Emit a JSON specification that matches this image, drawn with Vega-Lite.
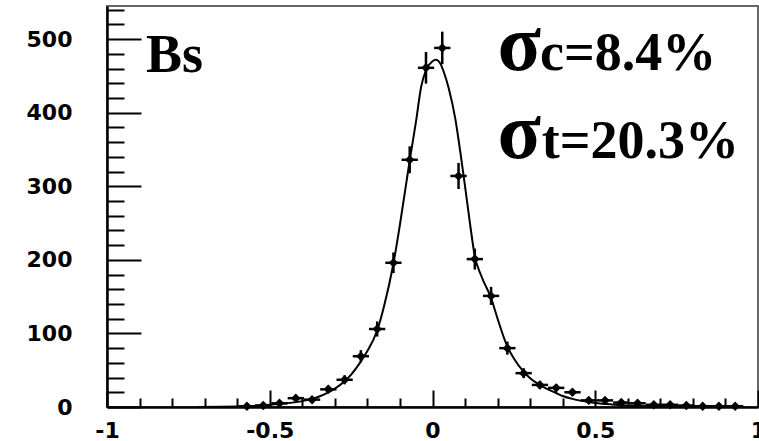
{
  "$schema": "https://vega.github.io/schema/vega-lite/v6.json",
  "width": 651,
  "height": 401,
  "autosize": {"type": "none"},
  "padding": {"left": 107, "top": 6, "right": 1, "bottom": 34},
  "background": "white",
  "config": {
    "view": {"stroke": "#666666", "strokeWidth": 2},
    "axis": {
      "grid": false,
      "title": null,
      "tickColor": "black",
      "tickWidth": 2,
      "domainColor": "black",
      "domainWidth": 2.5,
      "labelFont": "DejaVu Sans",
      "labelFontWeight": "bold",
      "labelFontSize": 22,
      "labelColor": "black",
      "labelOverlap": false,
      "labelBound": false,
      "labelFlush": false
    }
  },
  "datasets": {
    "pts": [
      {"x": -0.57, "n": 1, "lo": 0, "hi": 2, "xl": -0.595, "xh": -0.545},
      {"x": -0.52, "n": 2, "lo": 0.6, "hi": 3.4, "xl": -0.545, "xh": -0.495},
      {"x": -0.47, "n": 5, "lo": 2.8, "hi": 7.2, "xl": -0.495, "xh": -0.445},
      {"x": -0.42, "n": 12, "lo": 8.5, "hi": 15.5, "xl": -0.445, "xh": -0.395},
      {"x": -0.37, "n": 10, "lo": 6.8, "hi": 13.2, "xl": -0.395, "xh": -0.345},
      {"x": -0.32, "n": 24, "lo": 19.1, "hi": 28.9, "xl": -0.345, "xh": -0.295},
      {"x": -0.27, "n": 37, "lo": 30.9, "hi": 43.1, "xl": -0.295, "xh": -0.245},
      {"x": -0.22, "n": 69, "lo": 60.7, "hi": 77.3, "xl": -0.245, "xh": -0.195},
      {"x": -0.17, "n": 106, "lo": 95.7, "hi": 116.3, "xl": -0.195, "xh": -0.145},
      {"x": -0.12, "n": 196, "lo": 182, "hi": 210, "xl": -0.145, "xh": -0.095},
      {"x": -0.07, "n": 336, "lo": 317.7, "hi": 354.3, "xl": -0.095, "xh": -0.045},
      {"x": -0.02, "n": 461, "lo": 439.5, "hi": 482.5, "xl": -0.045, "xh": 0.005},
      {"x": 0.03, "n": 488, "lo": 465.9, "hi": 510.1, "xl": 0.005, "xh": 0.055},
      {"x": 0.08, "n": 314, "lo": 296.3, "hi": 331.7, "xl": 0.055, "xh": 0.105},
      {"x": 0.13, "n": 201, "lo": 186.8, "hi": 215.2, "xl": 0.105, "xh": 0.155},
      {"x": 0.18, "n": 151, "lo": 138.7, "hi": 163.3, "xl": 0.155, "xh": 0.205},
      {"x": 0.23, "n": 80, "lo": 71.1, "hi": 88.9, "xl": 0.205, "xh": 0.255},
      {"x": 0.28, "n": 46, "lo": 39.2, "hi": 52.8, "xl": 0.255, "xh": 0.305},
      {"x": 0.33, "n": 30, "lo": 24.5, "hi": 35.5, "xl": 0.305, "xh": 0.355},
      {"x": 0.38, "n": 26, "lo": 20.9, "hi": 31.1, "xl": 0.355, "xh": 0.405},
      {"x": 0.43, "n": 20, "lo": 15.5, "hi": 24.5, "xl": 0.405, "xh": 0.455},
      {"x": 0.48, "n": 9, "lo": 6, "hi": 12, "xl": 0.455, "xh": 0.505},
      {"x": 0.53, "n": 9, "lo": 6, "hi": 12, "xl": 0.505, "xh": 0.555},
      {"x": 0.58, "n": 6, "lo": 3.6, "hi": 8.4, "xl": 0.555, "xh": 0.605},
      {"x": 0.63, "n": 5, "lo": 2.8, "hi": 7.2, "xl": 0.605, "xh": 0.655},
      {"x": 0.68, "n": 3, "lo": 1.3, "hi": 4.7, "xl": 0.655, "xh": 0.705},
      {"x": 0.73, "n": 3, "lo": 1.3, "hi": 4.7, "xl": 0.705, "xh": 0.755},
      {"x": 0.78, "n": 2, "lo": 0.6, "hi": 3.4, "xl": 0.755, "xh": 0.805},
      {"x": 0.83, "n": 1, "lo": 0, "hi": 2, "xl": 0.805, "xh": 0.855},
      {"x": 0.88, "n": 1, "lo": 0, "hi": 2, "xl": 0.855, "xh": 0.905},
      {"x": 0.93, "n": 1, "lo": 0, "hi": 2, "xl": 0.905, "xh": 0.955}
    ],
    "fit": [
      {"x": -0.72, "y": 0},
      {"x": -0.65, "y": 0.3},
      {"x": -0.6, "y": 0.8},
      {"x": -0.55, "y": 1.5},
      {"x": -0.5, "y": 3},
      {"x": -0.45, "y": 5},
      {"x": -0.4, "y": 8},
      {"x": -0.37, "y": 11},
      {"x": -0.35, "y": 14},
      {"x": -0.32, "y": 20},
      {"x": -0.3, "y": 25},
      {"x": -0.27, "y": 35},
      {"x": -0.25, "y": 44},
      {"x": -0.22, "y": 62},
      {"x": -0.2, "y": 76},
      {"x": -0.17, "y": 104},
      {"x": -0.15, "y": 135},
      {"x": -0.12, "y": 195},
      {"x": -0.1, "y": 248},
      {"x": -0.07, "y": 335},
      {"x": -0.05, "y": 390},
      {"x": -0.035, "y": 435},
      {"x": -0.02, "y": 458},
      {"x": 0, "y": 470},
      {"x": 0.01, "y": 472},
      {"x": 0.025, "y": 466},
      {"x": 0.035, "y": 455},
      {"x": 0.05, "y": 433},
      {"x": 0.07, "y": 392},
      {"x": 0.085, "y": 348},
      {"x": 0.1, "y": 300},
      {"x": 0.115, "y": 250},
      {"x": 0.13, "y": 205},
      {"x": 0.15, "y": 178},
      {"x": 0.18, "y": 148},
      {"x": 0.2, "y": 120},
      {"x": 0.23, "y": 82},
      {"x": 0.25, "y": 66},
      {"x": 0.28, "y": 48},
      {"x": 0.3, "y": 39},
      {"x": 0.33, "y": 30},
      {"x": 0.35, "y": 25},
      {"x": 0.38, "y": 19},
      {"x": 0.4, "y": 15},
      {"x": 0.43, "y": 11},
      {"x": 0.45, "y": 9},
      {"x": 0.5, "y": 5.5},
      {"x": 0.55, "y": 3.5},
      {"x": 0.6, "y": 2.2},
      {"x": 0.7, "y": 1},
      {"x": 0.8, "y": 0.5},
      {"x": 0.95, "y": 0.2}
    ],
    "labels": [
      {"t": "Bs", "x": -0.88, "y": 455, "big": 0},
      {"t": "σ", "x": 0.2, "y": 458, "big": 1},
      {"t": "c=8.4%", "x": 0.33, "y": 458, "big": 0},
      {"t": "σ", "x": 0.2, "y": 338, "big": 1},
      {"t": "t=20.3%", "x": 0.336, "y": 338, "big": 0}
    ]
  },
  "layer": [
    {
      "data": {"name": "fit"},
      "mark": {"type": "line", "color": "black", "strokeWidth": 2, "interpolate": "monotone"},
      "encoding": {
        "x": {"field": "x", "type": "quantitative", "scale": {"domain": [-1, 1], "nice": false, "zero": false},
          "axis": {"orient": "bottom", "values": [-1, -0.5, 0, 0.5, 1], "tickSize": -17, "labelPadding": 30, "labelExpr": "'' + datum.value"}},
        "y": {"field": "y", "type": "quantitative", "scale": {"domain": [0, 545], "nice": false, "zero": false},
          "axis": {"orient": "left", "values": [0, 100, 200, 300, 400, 500], "tickSize": -34, "labelPadding": 69, "labelBaseline": "middle", "labelExpr": "'' + datum.value"}}
      }
    },
    {
      "data": {"name": "pts"},
      "mark": {"type": "rule", "color": "black", "strokeWidth": 2.5},
      "encoding": {
        "x": {"field": "x", "type": "quantitative", "scale": {"domain": [-1, 1], "nice": false, "zero": false},
          "axis": {"orient": "bottom", "values": [-0.9, -0.8, -0.7, -0.6, -0.4, -0.3, -0.2, -0.1, 0.1, 0.2, 0.3, 0.4, 0.6, 0.7, 0.8, 0.9], "tickSize": -9, "labels": false, "domain": false}},
        "y": {"field": "lo", "type": "quantitative", "scale": {"domain": [0, 545], "nice": false, "zero": false},
          "axis": {"orient": "left", "values": [20, 40, 60, 80, 120, 140, 160, 180, 220, 240, 260, 280, 320, 340, 360, 380, 420, 440, 460, 480, 520, 540], "tickSize": -17, "labels": false, "domain": false}},
        "y2": {"field": "hi"}
      }
    },
    {
      "data": {"name": "pts"},
      "mark": {"type": "rule", "color": "black", "strokeWidth": 2.5},
      "encoding": {
        "x": {"field": "xl", "type": "quantitative", "scale": {"domain": [-1, 1], "nice": false, "zero": false}, "axis": null},
        "x2": {"field": "xh"},
        "y": {"field": "n", "type": "quantitative", "scale": {"domain": [0, 545], "nice": false, "zero": false}, "axis": null}
      }
    },
    {
      "data": {"name": "pts"},
      "mark": {"type": "point", "shape": "diamond", "filled": true, "color": "black", "size": 90, "opacity": 1},
      "encoding": {
        "x": {"field": "x", "type": "quantitative", "scale": {"domain": [-1, 1], "nice": false, "zero": false}, "axis": null},
        "y": {"field": "n", "type": "quantitative", "scale": {"domain": [0, 545], "nice": false, "zero": false}, "axis": null}
      }
    },
    {
      "data": {"name": "labels"},
      "mark": {"type": "text", "font": "Liberation Serif", "fontWeight": "bold", "align": "left", "baseline": "alphabetic", "color": "black"},
      "encoding": {
        "x": {"field": "x", "type": "quantitative", "scale": {"domain": [-1, 1], "nice": false, "zero": false}, "axis": null},
        "y": {"field": "y", "type": "quantitative", "scale": {"domain": [0, 545], "nice": false, "zero": false}, "axis": null},
        "text": {"field": "t"},
        "size": {"condition": {"test": "datum.big == 1", "value": 80}, "value": 54}
      }
    }
  ],
  "resolve": {"axis": {"x": "independent", "y": "independent"}}
}
